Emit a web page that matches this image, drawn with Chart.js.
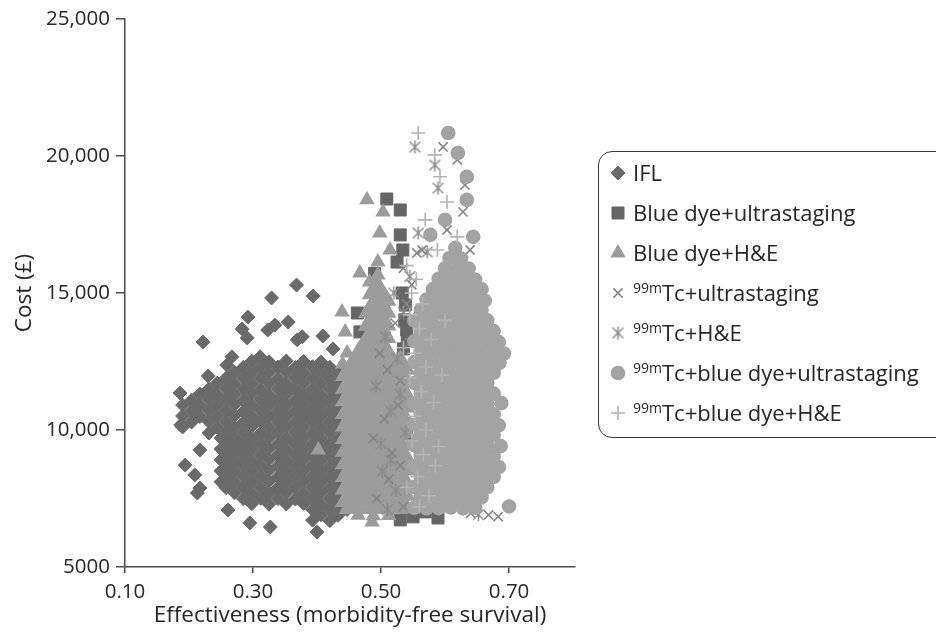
<!DOCTYPE html>
<html>
<head>
<meta charset="utf-8">
<script src="https://cdn.jsdelivr.net/npm/chart.js@4.4.1/dist/chart.umd.min.js"></script>
<style>
  html, body { margin: 0; padding: 0; background: #fff; overflow: hidden; }
  #wrap { position: relative; width: 936px; height: 633px; }
  #chart { position: absolute; left: 0; top: 0; }
  #legend {
    position: absolute; left: 598px; top: 151px; width: 420px; height: 287px;
    border: 1.5px solid #3a3a3a; border-radius: 14px; box-sizing: border-box;
    font-family: 'Open Sans', sans-serif; font-size: 22px; color: #262626;
  }
  .item { position: absolute; left: 0; height: 20px; width: 400px; }
  .item canvas { position: absolute; left: 8.5px; top: 0; }
  .item .txt { position: absolute; left: 34px; top: -1px; line-height: 20px; white-space: nowrap; }
  .sup { font-size: 14px; position: relative; top: -8px; }
</style>
</head>
<body>
<div id="wrap">
  <canvas id="chart" width="936" height="633"></canvas>
  <div id="legend"></div>
</div>
<script>
// Axis ticks
const xTicks = [0.10, 0.30, 0.50, 0.70];
const xTickLabels = ['0.10', '0.30', '0.50', '0.70'];
const yTicks = [5000, 10000, 15000, 20000, 25000];
const yTickLabels = ['5000', '10,000', '15,000', '20,000', '25,000'];

// Strategy names (superscript prefix + name)
const seriesSup = ['', '', '', '99m', '99m', '99m', '99m'];
const seriesNames = ['IFL', 'Blue dye+ultrastaging', 'Blue dye+H&E', 'Tc+ultrastaging', 'Tc+H&E',
  'Tc+blue dye+ultrastaging', 'Tc+blue dye+H&E'];

// Simulated [effectiveness, cost] pairs per strategy
const ifl = [
  [0.298,12510],[0.325,12490],[0.352,12520],[0.379,12500],[0.406,12480],
  [0.285,12290],[0.312,12310],[0.339,12300],[0.366,12280],[0.393,12310],[0.420,12290],
  [0.271,12110],[0.298,12090],[0.325,12100],[0.352,12120],[0.379,12090],[0.406,12110],[0.433,12100],
  [0.258,11890],[0.285,11910],[0.312,11900],[0.339,11880],[0.366,11910],[0.393,11900],[0.420,11890],[0.447,11910],
  [0.244,11710],[0.271,11690],[0.298,11700],[0.325,11720],[0.352,11690],[0.379,11710],[0.406,11700],[0.433,11690],
  [0.231,11490],[0.258,11510],[0.285,11500],[0.312,11480],[0.339,11510],[0.366,11500],[0.393,11490],[0.420,11510],[0.447,11500],
  [0.217,11310],[0.244,11290],[0.271,11300],[0.298,11320],[0.325,11290],[0.352,11310],[0.379,11300],[0.406,11290],[0.433,11310],
  [0.204,11090],[0.231,11110],[0.258,11100],[0.285,11080],[0.312,11110],[0.339,11100],[0.366,11090],[0.393,11110],[0.420,11100],[0.447,11090],
  [0.190,10910],[0.217,10890],[0.244,10900],[0.271,10920],[0.298,10890],[0.325,10910],[0.352,10900],[0.379,10890],[0.406,10910],[0.433,10900],
  [0.204,10690],[0.231,10710],[0.258,10700],[0.285,10680],[0.312,10710],[0.339,10700],[0.366,10690],[0.393,10710],[0.420,10700],[0.447,10690],
  [0.190,10510],[0.217,10490],[0.244,10500],[0.271,10520],[0.298,10490],[0.325,10510],[0.352,10500],[0.379,10490],[0.406,10510],[0.433,10500],
  [0.204,10290],[0.231,10310],[0.258,10300],[0.285,10280],[0.312,10310],[0.339,10300],[0.366,10290],[0.393,10310],[0.420,10300],[0.447,10290],
  [0.190,10110],[0.244,10090],[0.271,10100],[0.298,10120],[0.325,10090],[0.352,10110],[0.379,10100],[0.406,10090],[0.433,10110],
  [0.231,9890],[0.258,9910],[0.285,9900],[0.312,9880],[0.339,9910],[0.366,9900],[0.393,9890],[0.420,9910],[0.447,9900],
  [0.250,9710],[0.271,9690],[0.298,9700],[0.325,9720],[0.352,9690],[0.379,9710],[0.406,9700],[0.433,9690],
  [0.258,9490],[0.285,9510],[0.312,9500],[0.339,9480],[0.366,9510],[0.393,9500],[0.420,9490],[0.447,9510],
  [0.250,9310],[0.271,9290],[0.298,9300],[0.325,9320],[0.352,9290],[0.379,9310],[0.406,9300],[0.433,9290],
  [0.258,9090],[0.285,9110],[0.312,9100],[0.339,9080],[0.366,9110],[0.393,9100],[0.420,9090],[0.447,9110],
  [0.250,8910],[0.271,8890],[0.298,8900],[0.325,8920],[0.352,8890],[0.379,8910],[0.406,8900],[0.433,8890],
  [0.258,8690],[0.285,8710],[0.312,8700],[0.339,8680],[0.366,8710],[0.393,8700],[0.420,8690],[0.447,8710],
  [0.250,8510],[0.271,8490],[0.298,8500],[0.325,8520],[0.352,8490],[0.379,8510],[0.406,8500],[0.433,8490],
  [0.258,8290],[0.285,8310],[0.312,8300],[0.339,8280],[0.366,8310],[0.393,8300],[0.420,8290],[0.447,8310],
  [0.250,8110],[0.271,8090],[0.298,8100],[0.325,8120],[0.352,8090],[0.379,8110],[0.406,8100],[0.433,8090],
  [0.258,7890],[0.285,7910],[0.312,7900],[0.339,7880],[0.366,7910],[0.393,7900],[0.420,7890],[0.447,7910],
  [0.271,7710],[0.298,7690],[0.325,7700],[0.352,7720],[0.379,7690],[0.406,7710],[0.433,7700],
  [0.285,7490],[0.312,7510],[0.339,7500],[0.366,7480],[0.393,7510],[0.420,7500],[0.447,7490],
  [0.298,7310],[0.325,7290],[0.352,7300],[0.379,7320],[0.406,7290],[0.433,7310],
  [0.393,7090],[0.420,7110],[0.447,7100],
  [0.406,6910],[0.433,6890],
  [0.393,6710],[0.420,6690],
  [0.368,15290],[0.329,14820],[0.394,14890],[0.292,14120],[0.355,13940],[0.283,13690],[0.291,13360],[0.323,13650],[0.334,13830],[0.222,13210],
  [0.409,13430],[0.369,13290],[0.377,13400],[0.425,12960],[0.267,12670],[0.259,12370],[0.230,11970],[0.186,11350],[0.311,12670],[0.187,10180],
  [0.194,8720],[0.217,9270],[0.209,8360],[0.217,7880],[0.213,7700],[0.261,7080],[0.295,6610],[0.327,6460],[0.400,6280]
];

const blueDyeUltra = [
  [0.509,18430],[0.530,18030],[0.530,17120],[0.534,16570],[0.525,16130],[0.490,15710],[0.533,15000],[0.538,14560],
  [0.537,14020],[0.540,13650],[0.541,13290],[0.535,12960],[0.463,14270],[0.467,13580],
  [0.530,6720],[0.550,6830],[0.589,6790],[0.569,7010],[0.560,7100],
  [0.480,9000],[0.500,11000],[0.520,8000],[0.470,10300],[0.510,12000],[0.495,7400],[0.540,9800],[0.460,8200]
];

const blueDyeHE = [
  [0.478,18400],[0.503,17960],[0.498,17190],[0.514,16570],[0.495,16130],[0.467,15730],[0.495,15660],
  [0.439,14310],[0.444,13580],[0.447,12810],[0.402,9270],[0.486,6640],
  [0.482,15400],[0.494,15380],
  [0.488,15170],[0.500,15150],
  [0.482,14940],[0.494,14920],[0.506,14930],
  [0.488,14710],[0.500,14690],[0.512,14700],
  [0.482,14480],[0.494,14460],[0.506,14470],
  [0.476,14250],[0.488,14230],[0.500,14240],[0.512,14260],
  [0.482,14020],[0.494,14000],[0.506,14010],
  [0.476,13790],[0.488,13770],[0.500,13780],[0.512,13800],
  [0.482,13560],[0.494,13540],[0.506,13550],
  [0.476,13330],[0.488,13310],[0.500,13320],[0.512,13340],
  [0.470,13100],[0.482,13080],[0.494,13090],[0.506,13110],
  [0.464,12870],[0.476,12850],[0.488,12860],[0.500,12880],[0.512,12850],
  [0.458,12640],[0.470,12620],[0.482,12630],[0.494,12650],[0.506,12620],[0.518,12640],[0.530,12630],
  [0.440,12410],[0.452,12390],[0.464,12400],[0.476,12420],[0.488,12390],[0.500,12410],[0.512,12400],[0.524,12390],[0.536,12410],
  [0.446,12160],[0.458,12180],[0.470,12170],[0.482,12160],[0.494,12180],[0.506,12170],[0.518,12150],[0.530,12170],[0.542,12180],
  [0.440,11950],[0.452,11930],[0.464,11940],[0.476,11960],[0.488,11930],[0.500,11950],[0.512,11940],[0.524,11930],[0.536,11950],
  [0.446,11700],[0.458,11720],[0.470,11710],[0.482,11700],[0.494,11720],[0.506,11710],[0.518,11690],[0.530,11710],[0.542,11720],
  [0.440,11490],[0.452,11470],[0.464,11480],[0.476,11500],[0.488,11470],[0.500,11490],[0.512,11480],[0.524,11470],[0.536,11490],
  [0.446,11240],[0.458,11260],[0.470,11250],[0.482,11240],[0.494,11260],[0.506,11250],[0.518,11230],[0.530,11250],[0.542,11260],
  [0.440,11030],[0.452,11010],[0.464,11020],[0.476,11040],[0.488,11010],[0.500,11030],[0.512,11020],[0.524,11010],[0.536,11030],
  [0.446,10780],[0.458,10800],[0.470,10790],[0.482,10780],[0.494,10800],[0.506,10790],[0.518,10770],[0.530,10790],[0.542,10800],
  [0.440,10570],[0.452,10550],[0.464,10560],[0.476,10580],[0.488,10550],[0.500,10570],[0.512,10560],[0.524,10550],[0.536,10570],
  [0.446,10320],[0.458,10340],[0.470,10330],[0.482,10320],[0.494,10340],[0.506,10330],[0.518,10310],[0.530,10330],[0.542,10340],
  [0.440,10110],[0.452,10090],[0.464,10100],[0.476,10120],[0.488,10090],[0.500,10110],[0.512,10100],[0.524,10090],[0.536,10110],
  [0.446,9860],[0.458,9880],[0.470,9870],[0.482,9860],[0.494,9880],[0.506,9870],[0.518,9850],[0.530,9870],[0.542,9880],
  [0.440,9650],[0.452,9630],[0.464,9640],[0.476,9660],[0.488,9630],[0.500,9650],[0.512,9640],[0.524,9630],[0.536,9650],
  [0.446,9400],[0.458,9420],[0.470,9410],[0.482,9400],[0.494,9420],[0.506,9410],[0.518,9390],[0.530,9410],[0.542,9420],
  [0.440,9190],[0.452,9170],[0.464,9180],[0.476,9200],[0.488,9170],[0.500,9190],[0.512,9180],[0.524,9170],[0.536,9190],
  [0.446,8940],[0.458,8960],[0.470,8950],[0.482,8940],[0.494,8960],[0.506,8950],[0.518,8930],[0.530,8950],[0.542,8960],
  [0.440,8730],[0.452,8710],[0.464,8720],[0.476,8740],[0.488,8710],[0.500,8730],[0.512,8720],[0.524,8710],[0.536,8730],
  [0.446,8480],[0.458,8500],[0.470,8490],[0.482,8480],[0.494,8500],[0.506,8490],[0.518,8470],[0.530,8490],[0.542,8500],
  [0.440,8270],[0.452,8250],[0.464,8260],[0.476,8280],[0.488,8250],[0.500,8270],[0.512,8260],[0.524,8250],[0.536,8270],
  [0.446,8020],[0.458,8040],[0.470,8030],[0.482,8020],[0.494,8040],[0.506,8030],[0.518,8010],[0.530,8030],[0.542,8040],
  [0.440,7810],[0.452,7790],[0.464,7800],[0.476,7820],[0.488,7790],[0.500,7810],[0.512,7800],[0.524,7790],[0.536,7810],
  [0.446,7560],[0.458,7580],[0.470,7570],[0.482,7560],[0.494,7580],[0.506,7570],[0.518,7550],[0.530,7570],[0.542,7580],
  [0.440,7350],[0.452,7330],[0.464,7340],[0.476,7360],[0.488,7330],[0.500,7350],[0.512,7340],[0.524,7330],[0.536,7350],
  [0.446,7100],[0.458,7120],[0.470,7110],[0.482,7100],[0.494,7120],[0.506,7110],[0.518,7090],[0.530,7110],[0.542,7120],
  [0.464,6890],[0.488,6870],[0.512,6880]
];

const tcUltra = [
  [0.597,20330],[0.619,19860],[0.631,18940],[0.628,17960],[0.639,16570],[0.564,16570],[0.603,17300],[0.556,16460],
  [0.517,9160],[0.505,10400],[0.530,11800],[0.498,12800],[0.522,13900],[0.540,14600],[0.512,8200],[0.493,7500],
  [0.535,7200],[0.527,10900],[0.510,12200],[0.545,13200],[0.488,9700],[0.530,8700],[0.548,15300],[0.535,15900],
  [0.640,6960],[0.668,6900],[0.683,6840]
];

const tcHE = [
  [0.553,20330],[0.584,19670],[0.589,18830],[0.558,17190],[0.572,16500],
  [0.500,9500],[0.515,10700],[0.492,11600],[0.525,12600],[0.507,13400],[0.535,14300],[0.520,15000],[0.545,15600],
  [0.502,8500],[0.523,7800],[0.510,7100],[0.538,9900],[0.530,11300],[0.515,8900],
  [0.652,6910]
];

const tcBlueUltra = [
  [0.605,20840],[0.620,20110],[0.634,19240],[0.634,18400],[0.600,17670],[0.577,17120],[0.644,17050],
  [0.616,16650],
  [0.607,16280],[0.625,16260],
  [0.600,15900],[0.619,15880],[0.637,15890],
  [0.590,15520],[0.609,15500],[0.628,15510],[0.647,15490],
  [0.581,15140],[0.600,15120],[0.619,15130],[0.638,15110],[0.657,15140],
  [0.571,14760],[0.590,14740],[0.609,14750],[0.628,14770],[0.647,14740],[0.662,14720],
  [0.562,14380],[0.581,14360],[0.600,14370],[0.619,14390],[0.638,14360],[0.657,14380],
  [0.552,13990],[0.571,14000],[0.590,13980],[0.609,14010],[0.628,13990],[0.647,13970],[0.666,14000],
  [0.562,13620],[0.581,13600],[0.600,13610],[0.619,13630],[0.638,13600],[0.657,13620],[0.676,13610],
  [0.552,13240],[0.571,13220],[0.590,13230],[0.609,13250],[0.628,13220],[0.647,13240],[0.666,13230],[0.684,13210],
  [0.562,12850],[0.581,12870],[0.600,12840],[0.619,12860],[0.638,12850],[0.657,12830],[0.676,12860],[0.692,12790],
  [0.552,12480],[0.571,12460],[0.590,12470],[0.609,12490],[0.628,12460],[0.647,12480],[0.666,12470],[0.685,12450],
  [0.562,12100],[0.581,12080],[0.600,12090],[0.619,12110],[0.638,12080],[0.657,12100],[0.676,12090],
  [0.552,11720],[0.571,11700],[0.590,11710],[0.609,11730],[0.628,11700],[0.647,11720],[0.666,11710],
  [0.562,11340],[0.581,11320],[0.600,11330],[0.619,11350],[0.638,11320],[0.657,11340],[0.676,11330],
  [0.552,10960],[0.571,10940],[0.590,10950],[0.609,10970],[0.628,10940],[0.647,10960],[0.666,10950],[0.688,10980],
  [0.562,10580],[0.581,10560],[0.600,10570],[0.619,10590],[0.638,10560],[0.657,10580],[0.676,10570],
  [0.552,10200],[0.571,10180],[0.590,10190],[0.609,10210],[0.628,10180],[0.647,10200],[0.666,10190],[0.684,10170],
  [0.562,9820],[0.581,9800],[0.600,9810],[0.619,9830],[0.638,9800],[0.657,9820],[0.676,9810],
  [0.552,9440],[0.571,9420],[0.590,9430],[0.609,9450],[0.628,9420],[0.647,9440],[0.666,9430],[0.687,9410],
  [0.562,9060],[0.581,9040],[0.600,9050],[0.619,9070],[0.638,9040],[0.657,9060],[0.676,9050],
  [0.552,8680],[0.571,8660],[0.590,8670],[0.609,8690],[0.628,8660],[0.647,8680],[0.666,8670],[0.684,8650],
  [0.562,8300],[0.581,8280],[0.600,8290],[0.619,8310],[0.638,8280],[0.657,8300],[0.676,8290],
  [0.552,7920],[0.571,7900],[0.590,7910],[0.609,7930],[0.628,7900],[0.647,7920],[0.666,7910],
  [0.562,7540],[0.581,7520],[0.600,7530],[0.619,7550],[0.638,7520],[0.657,7540],
  [0.552,7160],[0.571,7140],[0.590,7150],[0.609,7170],[0.628,7140],[0.647,7160],
  [0.700,7210]
];

const tcBlueHE = [
  [0.558,20840],[0.584,20040],[0.592,19240],[0.603,18320],[0.569,17670],[0.619,17050],[0.588,16570],
  [0.540,16000],[0.555,15500],[0.548,15000],[0.565,14600],[0.545,14200],[0.560,13700],[0.578,13300],[0.552,12800],
  [0.570,12300],[0.545,11900],[0.563,11400],[0.582,11000],[0.553,10500],[0.570,10000],[0.548,9600],[0.566,9100],
  [0.585,8700],[0.557,8300],[0.540,7900],[0.575,7600],[0.560,7200],[0.595,12000],[0.590,9400],[0.600,14000],[0.535,13000]
];

// Six-spoke asterisk marker drawn once into a small canvas
function asteriskMarker(color, r) {
  const s = Math.ceil(r * 2 + 4);
  const c = document.createElement('canvas');
  c.width = s; c.height = s;
  const g = c.getContext('2d');
  const m = s / 2, d = r * 0.82;
  g.strokeStyle = color; g.lineWidth = 1.5;
  g.beginPath();
  g.moveTo(m, m - r); g.lineTo(m, m + r);
  g.moveTo(m - d, m - d); g.lineTo(m + d, m + d);
  g.moveTo(m - d, m + d); g.lineTo(m + d, m - d);
  g.stroke();
  return c;
}

const styles = [
  { data: ifl,          pointStyle: 'rectRot',  radius: 7,   fill: '#6a6a6a', stroke: '#6a6a6a', bw: 1,   order: 7 },
  { data: blueDyeUltra, pointStyle: 'rect',     radius: 8.5, fill: '#666666', stroke: '#666666', bw: 1,   order: 6 },
  { data: blueDyeHE,    pointStyle: 'triangle', radius: 7,   fill: '#9c9c9c', stroke: '#9c9c9c', bw: 2,   order: 5 },
  { data: tcUltra,      pointStyle: 'crossRot', radius: 6.5, fill: '#858585', stroke: '#858585', bw: 1.6, order: 4 },
  { data: tcHE,         pointStyle: asteriskMarker('#8a8a8a', 6.5), radius: 8, fill: '#8a8a8a', stroke: '#8a8a8a', bw: 1.5, order: 3 },
  { data: tcBlueUltra,  pointStyle: 'circle',   radius: 6.3, fill: '#a3a3a3', stroke: '#a3a3a3', bw: 2,   order: 2 },
  { data: tcBlueHE,     pointStyle: 'cross',    radius: 7,   fill: '#b3b3b3', stroke: '#b3b3b3', bw: 1.6, order: 1 }
];

const datasets = styles.map((s, i) => ({
  label: seriesSup[i] + seriesNames[i],
  data: s.data,
  pointStyle: s.pointStyle,
  pointRadius: s.radius,
  pointHoverRadius: s.radius,
  pointBackgroundColor: s.fill,
  pointBorderColor: s.stroke,
  pointBorderWidth: s.bw,
  showLine: false,
  order: s.order
}));

const FONT = "'Open Sans', sans-serif";
const TEXT = '#262626';
const AXIS = '#4a4a4a';

new Chart(document.getElementById('chart').getContext('2d'), {
  type: 'scatter',
  data: { datasets },
  options: {
    responsive: false,
    animation: false,
    events: [],
    layout: { padding: { top: 19, right: 361, bottom: 0, left: 0 } },
    plugins: { legend: { display: false }, tooltip: { enabled: false } },
    scales: {
      x: {
        type: 'linear', min: 0.10, max: 0.803,
        afterBuildTicks: s => { s.ticks = xTicks.map(v => ({ value: v })); },
        afterFit: s => { s.height = 66; s.paddingLeft = 0; s.paddingRight = 0; },
        ticks: { callback: (v, i) => xTickLabels[i], font: { family: FONT, size: 20.5 }, color: TEXT, padding: 7, maxRotation: 0, autoSkip: false },
        grid: { drawOnChartArea: false, drawTicks: true, tickLength: 6, color: AXIS, lineWidth: 1.5 },
        border: { display: true, color: AXIS, width: 1.5 },
        title: { display: true, text: 'Effectiveness (morbidity-free survival)', font: { family: FONT, size: 22.5 }, color: TEXT, padding: { top: 0, bottom: 4 } }
      },
      y: {
        type: 'linear', min: 5000, max: 25000,
        afterBuildTicks: s => { s.ticks = yTicks.map(v => ({ value: v })); },
        afterFit: s => { s.width = 125; s.paddingTop = 0; s.paddingBottom = 0; },
        ticks: { callback: (v, i) => yTickLabels[i], font: { family: FONT, size: 20.5 }, color: TEXT, padding: 6, autoSkip: false },
        grid: { drawOnChartArea: false, drawTicks: true, tickLength: 9, color: AXIS, lineWidth: 1.5 },
        border: { display: true, color: AXIS, width: 1.5 },
        title: { display: true, text: 'Cost (£)', font: { family: FONT, size: 22.5 }, color: TEXT, padding: { top: 11, bottom: 0 } }
      }
    }
  }
});

// Legend box with superscripted isotope names
const legend = document.getElementById('legend');
styles.forEach((s, i) => {
  const item = document.createElement('div');
  item.className = 'item';
  item.style.top = (11 + 40 * i) + 'px';
  const c = document.createElement('canvas');
  c.width = 20; c.height = 20;
  const g = c.getContext('2d');
  g.fillStyle = s.fill; g.strokeStyle = s.stroke; g.lineWidth = s.bw;
  Chart.helpers.drawPoint(g, { pointStyle: s.pointStyle, radius: s.radius, borderWidth: s.bw, rotation: 0 }, 10, 10);
  item.appendChild(c);
  const t = document.createElement('span');
  t.className = 'txt';
  if (seriesSup[i]) {
    const sp = document.createElement('span');
    sp.className = 'sup';
    sp.textContent = seriesSup[i];
    t.appendChild(sp);
  }
  t.appendChild(document.createTextNode(seriesNames[i]));
  item.appendChild(t);
  legend.appendChild(item);
});
</script>
</body>
</html>
